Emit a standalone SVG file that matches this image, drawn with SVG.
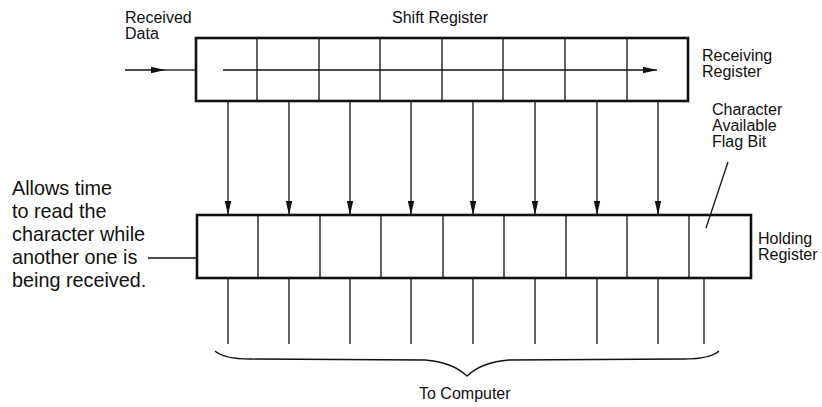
<svg xmlns="http://www.w3.org/2000/svg" width="822" height="407" viewBox="0 0 822 407">
<style>
text{font-family:"Liberation Sans",Arial,sans-serif;fill:#111}
.lbl{font-size:16px}
.big{font-size:19.8px}
.box{fill:none;stroke:#111;stroke-width:2.6}
.div{stroke:#111;stroke-width:1.3;fill:none}
.ln{stroke:#111;stroke-width:1.3;fill:none}
</style>
<defs>
<marker id="ah" markerWidth="14" markerHeight="8" refX="14" refY="4" orient="auto" markerUnits="userSpaceOnUse">
<path d="M0,0.8 L14,4 L0,7.2 Z" fill="#111"/>
</marker>
</defs>
<g id="labels">
<text class="lbl" x="125" y="23">Received</text>
<text class="lbl" x="125" y="39">Data</text>
<text class="lbl" x="392" y="23">Shift Register</text>
<text class="lbl" x="702" y="61">Receiving</text>
<text class="lbl" x="702" y="77">Register</text>
<text class="lbl" x="712" y="115">Character</text>
<text class="lbl" x="712" y="131">Available</text>
<text class="lbl" x="712" y="147">Flag Bit</text>
<text class="lbl" x="758" y="244">Holding</text>
<text class="lbl" x="758" y="260">Register</text>
<text class="lbl" x="419" y="399">To Computer</text>
<text class="big" x="12" y="195">Allows time</text>
<text class="big" x="12" y="218">to read the</text>
<text class="big" x="12" y="241">character while</text>
<text class="big" x="12" y="264">another one is</text>
<text class="big" x="12" y="287">being received.</text>
</g>
<g id="receiving-register">
<rect class="box" x="196" y="38" width="492" height="63"/>
<path class="div" d="M257,38V101M319,38V101M380,38V101M442,38V101M503,38V101M565,38V101M627,38V101"/>
</g>
<g id="holding-register">
<rect class="box" x="197" y="215" width="554" height="63"/>
<path class="div" d="M258,215V278M320,215V278M381,215V278M443,215V278M504,215V278M566,215V278M627,215V278M689,215V278"/>
</g>
<g id="connectors">
<line class="ln" x1="125" y1="70" x2="165" y2="70" marker-end="url(#ah)"/>
<line class="ln" x1="165" y1="70" x2="196" y2="70"/>
<line class="ln" x1="223" y1="70" x2="657" y2="70" marker-end="url(#ah)"/>
<line class="ln" x1="228" y1="101" x2="228" y2="215" marker-end="url(#ah)"/>
<line class="ln" x1="289" y1="101" x2="289" y2="215" marker-end="url(#ah)"/>
<line class="ln" x1="350" y1="101" x2="350" y2="215" marker-end="url(#ah)"/>
<line class="ln" x1="411" y1="101" x2="411" y2="215" marker-end="url(#ah)"/>
<line class="ln" x1="473" y1="101" x2="473" y2="215" marker-end="url(#ah)"/>
<line class="ln" x1="535" y1="101" x2="535" y2="215" marker-end="url(#ah)"/>
<line class="ln" x1="597" y1="101" x2="597" y2="215" marker-end="url(#ah)"/>
<line class="ln" x1="658" y1="101" x2="658" y2="215" marker-end="url(#ah)"/>
<path class="ln" d="M228,278V344M289,278V344M350,278V344M411,278V344M473,278V344M535,278V344M597,278V344M658,278V344M704,278V344"/>
<line class="ln" x1="148" y1="258" x2="197" y2="258"/>
<line class="ln" x1="728" y1="162" x2="706" y2="228"/>
<path class="ln" stroke-width="2" d="M215,351 Q224,359 250,359 L425,360 Q452,362 467,376 Q482,362 509,360 L684,359 Q710,359 719,351"/>
</g>
</svg>
